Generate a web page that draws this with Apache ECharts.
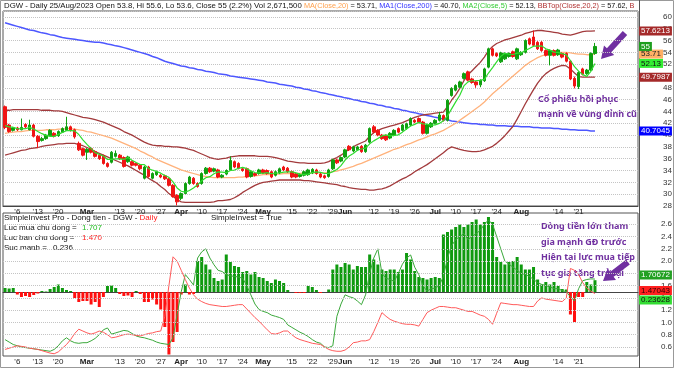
<!DOCTYPE html>
<html><head><meta charset="utf-8">
<script src="https://cdn.jsdelivr.net/npm/echarts@6/dist/echarts.min.js"></script>
<style>html,body{margin:0;padding:0;background:#fff}#c{width:675px;height:369px}</style>
</head><body><div id="c"></div>
<script>
const dates = [
'02-01','02-02','02-03','02-06','02-07','02-08','02-09','02-10','02-13','02-14','02-15','02-16','02-17','02-20','02-21','02-22','02-23','02-24','02-27','02-28',
'03-01','03-02','03-03','03-06','03-07','03-08','03-09','03-10','03-13','03-14','03-15','03-16','03-17','03-20','03-21','03-22','03-23','03-24','03-27','03-28','03-29','03-30','03-31',
'04-03','04-04','04-05','04-06','04-07','04-10','04-11','04-12','04-13','04-14','04-17','04-18','04-19','04-20','04-21','04-24','04-25','04-26','04-27','04-28',
'05-04','05-05','05-08','05-09','05-10','05-11','05-12','05-15','05-16','05-17','05-18','05-19','05-22','05-23','05-24','05-25','05-26','05-29','05-30','05-31',
'06-01','06-02','06-05','06-06','06-07','06-08','06-09','06-12','06-13','06-14','06-15','06-16','06-19','06-20','06-21','06-22','06-23','06-26','06-27','06-28','06-29','06-30',
'07-03','07-04','07-05','07-06','07-07','07-10','07-11','07-12','07-13','07-14','07-17','07-18','07-19','07-20','07-21','07-24','07-25','07-26','07-27','07-28','07-31',
'08-01','08-02','08-03','08-04','08-07','08-08','08-09','08-10','08-11','08-14','08-15','08-16','08-17','08-18','08-21','08-22','08-23','08-24','08-25'];
const futureSlots = ['08-28','08-29','08-30','08-31','09-05','09-06','09-07','09-08','09-11','09-12'];
const tickLabels = [['02-06',"'6"],['02-13',"'13"],['02-20',"'20"],['03-01','Mar'],['03-13',"'13"],['03-20',"'20"],['03-27',"'27"],['04-03','Apr'],['04-10',"'10"],['04-17',"'17"],['04-24',"'24"],['05-04','May'],['05-15',"'15"],['05-22',"'22"],['05-29',"'29"],['06-01','Jun'],['06-12',"'12"],['06-19',"'19"],['06-26',"'26"],['07-03','Jul'],['07-10',"'10"],['07-17',"'17"],['07-24',"'24"],['08-01','Aug'],['08-14',"'14"],['08-21',"'21"]];
const priceTicksMin = 28, priceTicksMax = 61, priceTickStep = 2;
const flowTicks = [0.6,0.8,1.0,1.2,1.4,1.6,1.8,2.0,2.2,2.4,2.6];

const open = [44.8,41.7,40.8,41.2,40.9,41.8,40.9,41.7,39.8,39.1,
 39.4,39.9,40.3,39.9,40.5,40.8,41.4,40.9,38.6,37.7,
 37.1,37.7,37.2,36.6,36.5,35.2,35.4,36.4,36.6,36.2,
 35.5,35.5,35.2,34.9,32.7,34.6,32.7,33.3,33.2,33.1,
 32.6,31.5,29.8,29.3,30.1,31.8,32.7,31.8,31.8,33.5,
 34.4,33.9,34.1,32.9,33.4,34.1,35.5,35.2,34.3,34.3,
 33.0,33.5,33.5,34.1,34.0,33.8,33.2,33.6,34.6,34.4,
 33.8,33.4,33.0,33.2,33.3,33.6,34.1,33.4,33.1,33.0,
 34.3,35.8,35.6,36.3,38.1,37.3,37.5,38.1,37.2,38.8,
 41.4,40.8,40.0,39.9,39.5,40.0,41.1,40.8,41.1,41.7,
 42.5,42.8,42.2,40.3,41.4,42.0,42.5,43.3,42.5,46.7,
 47.6,48.1,49.6,50.7,49.5,49.0,48.5,49.2,51.5,54.6,
 53.8,52.4,52.9,53.3,54.1,52.9,53.6,54.0,56.3,56.6,
 55.7,55.7,54.3,53.5,54.3,53.6,53.8,53.8,52.5,49.6,
 48.2,51.2,50.4,51.0,53.8];
const high = [45.0,41.9,41.4,41.4,42.8,42.0,42.6,41.9,40.0,39.7,
 40.2,41.0,40.5,40.8,41.3,43.1,41.6,41.1,38.9,37.9,
 37.8,38.0,37.4,36.8,36.7,35.4,37.3,37.4,36.8,36.4,
 36.5,35.7,35.3,35.1,34.8,34.8,33.7,34.0,33.4,33.3,
 32.8,31.7,30.0,30.3,32.0,33.1,32.9,32.0,33.7,34.6,
 34.6,34.5,34.3,33.4,34.2,36.4,35.7,35.4,34.5,34.5,
 34.0,33.7,34.3,34.3,34.2,34.0,34.0,34.5,34.8,34.6,
 34.0,33.6,33.5,34.0,34.3,34.4,34.3,33.6,33.3,34.3,
 36.0,36.0,36.4,37.7,38.3,38.2,38.2,38.3,38.5,41.3,
 41.7,41.0,40.2,40.1,40.5,41.0,41.3,41.9,42.1,43.0,
 42.7,43.0,42.4,41.9,42.2,42.7,43.9,43.5,46.1,48.1,
 48.6,49.2,50.6,50.9,49.7,49.2,49.4,51.4,54.8,54.8,
 54.0,54.1,54.0,54.0,54.3,54.8,54.2,56.2,56.5,57.7,
 55.9,55.9,54.5,54.5,54.5,54.6,54.0,54.0,52.7,49.9,
 50.8,51.4,51.2,54.0,55.6];
const low = [41.0,40.4,40.6,40.7,40.8,41.2,40.8,39.6,37.8,38.9,
 39.2,39.8,39.6,39.7,40.4,40.7,40.6,39.4,37.3,36.4,
 35.8,36.9,36.2,35.8,35.0,34.5,35.2,36.2,35.8,34.5,
 35.3,34.7,34.7,34.1,32.5,32.8,32.5,33.1,32.7,32.4,
 31.3,29.4,28.1,29.0,30.0,31.6,31.6,31.1,31.6,33.3,
 33.6,33.7,32.7,32.7,33.2,34.0,34.4,34.2,33.8,32.7,
 32.8,33.0,33.3,33.4,33.3,32.7,33.0,33.4,33.9,33.6,
 32.7,32.7,32.8,33.0,33.1,33.4,33.3,32.7,32.6,32.8,
 34.1,35.1,35.4,36.1,37.3,37.1,37.3,37.0,37.0,38.6,
 40.3,39.8,39.2,39.0,39.3,39.8,40.3,40.6,40.9,41.5,
 42.0,42.0,40.1,40.1,41.2,41.8,42.3,42.3,42.3,46.5,
 47.4,47.9,49.4,49.1,48.7,48.0,48.1,49.0,51.3,53.3,
 53.2,52.2,52.7,53.1,53.1,52.7,53.4,53.8,55.2,55.0,
 54.4,54.1,53.3,51.8,53.3,53.4,53.0,52.3,49.3,47.9,
 47.8,50.1,50.2,50.8,53.6];
const close = [41.3,40.6,41.2,40.9,41.3,41.4,41.7,39.8,38.9,39.4,
 40.0,40.8,39.8,40.6,41.1,41.4,40.8,39.7,37.5,36.6,
 37.6,37.1,36.4,36.0,35.2,34.7,37.1,36.9,36.0,34.7,
 36.3,34.9,34.9,34.3,34.6,33.0,33.5,33.8,32.9,32.6,
 31.5,29.6,28.7,30.1,31.8,32.9,31.8,31.3,33.5,34.4,
 33.8,34.3,32.9,33.2,34.0,35.7,34.6,34.4,34.0,32.9,
 33.8,33.2,34.1,33.6,33.5,32.9,33.8,34.3,34.1,33.8,
 32.9,32.9,33.3,33.8,34.1,34.2,33.5,32.9,32.8,34.1,
 35.8,35.3,36.2,37.5,37.5,38.0,38.0,37.2,38.3,41.1,
 40.5,40.0,39.4,39.2,40.3,40.8,40.5,41.7,41.9,42.8,
 42.2,42.2,40.3,41.7,42.0,42.5,43.4,42.5,45.9,47.9,
 48.4,49.0,50.4,49.3,48.9,48.5,49.3,51.2,54.6,53.5,
 53.4,53.9,53.8,53.8,53.3,54.6,54.0,56.0,55.4,55.2,
 54.6,54.3,53.5,54.3,53.5,54.4,53.2,52.5,49.5,48.3,
 50.6,50.3,51.0,53.8,55.0];
const ma5 = [41.6,41.4,41.3,41.1,41.06,41.08,41.3,41.02,40.62,40.24,
 39.96,39.78,39.78,40.12,40.46,40.74,40.74,40.72,40.1,39.2,
 38.44,37.7,37.04,36.74,36.46,35.88,35.88,35.98,35.98,35.88,
 36.2,35.76,35.36,35.02,35.0,34.34,34.06,33.84,33.56,33.16,
 32.86,32.08,31.06,30.5,30.34,30.62,31.06,31.58,32.26,32.78,
 32.96,33.46,33.78,33.72,33.64,34.02,34.08,34.38,34.54,34.32,
 33.94,33.66,33.6,33.52,33.64,33.46,33.58,33.62,33.72,33.78,
 33.78,33.6,33.4,33.34,33.4,33.66,33.78,33.7,33.5,33.5,
 33.82,34.18,34.84,35.78,36.46,36.9,37.44,37.64,37.8,38.52,
 39.02,39.42,39.86,40.04,39.88,39.94,40.04,40.5,41.04,41.54,
 41.82,42.16,41.88,41.84,41.68,41.74,41.98,42.42,43.26,44.44,
 45.62,46.74,48.32,49.0,49.2,49.22,49.28,49.44,50.5,51.42,
 52.4,53.32,53.84,53.68,53.64,53.88,53.9,54.34,54.66,55.04,
 55.04,55.1,54.6,54.38,54.04,54.0,53.78,53.58,52.62,51.58,
 50.82,50.24,49.94,50.8,52.13];
const ma20 = [40.3,40.4,40.5,40.6,40.6,40.7,40.8,40.8,40.8,40.8,
 40.9,40.9,40.9,41.0,41.0,41.1,41.1,41.0,40.9,40.8,
 40.6,40.5,40.3,40.1,39.9,39.7,39.5,39.2,38.9,38.6,
 38.3,38.0,37.7,37.3,37.0,36.6,36.3,35.9,35.6,35.3,
 35.0,34.7,34.4,34.1,33.9,33.7,33.5,33.3,33.1,33.0,
 32.9,32.8,32.8,32.8,32.8,32.8,32.8,32.9,32.9,33.0,
 33.0,33.1,33.2,33.3,33.3,33.3,33.4,33.4,33.5,33.5,
 33.5,33.5,33.5,33.6,33.6,33.6,33.6,33.6,33.6,33.7,
 33.8,33.9,34.1,34.3,34.5,34.7,35.0,35.2,35.5,35.8,
 36.1,36.4,36.7,37.0,37.3,37.6,37.8,38.1,38.4,38.6,
 38.9,39.2,39.4,39.7,40.0,40.2,40.5,40.8,41.2,41.6,
 42.0,42.5,43.0,43.5,44.0,44.5,45.0,45.6,46.3,47.0,
 47.6,48.2,48.8,49.4,50.0,50.6,51.2,51.8,52.3,52.7,
 53.1,53.4,53.6,53.8,53.9,54.0,54.0,54.0,53.9,53.8,
 53.7,53.7,53.6,53.6,53.71];
const ma200 = [59.0,58.8,58.6,58.4,58.2,58.0,57.8,57.7,57.5,57.3,
 57.2,57.0,56.9,56.7,56.5,56.4,56.3,56.2,56.1,56.0,
 55.9,55.8,55.7,55.7,55.6,55.4,55.3,55.1,55.0,54.8,
 54.6,54.4,54.2,54.0,53.8,53.6,53.3,53.1,52.8,52.5,
 52.3,52.1,51.9,51.7,51.6,51.4,51.3,51.1,51.0,50.8,
 50.7,50.6,50.4,50.3,50.2,50.0,49.9,49.8,49.7,49.6,
 49.5,49.4,49.3,49.2,49.0,48.9,48.8,48.6,48.5,48.4,
 48.3,48.1,48.0,47.8,47.7,47.5,47.4,47.2,47.1,46.9,
 46.8,46.6,46.5,46.3,46.2,46.0,45.9,45.7,45.6,45.4,
 45.3,45.1,45.0,44.8,44.7,44.5,44.4,44.2,44.1,43.9,
 43.8,43.6,43.5,43.3,43.2,43.0,42.9,42.7,42.6,42.4,
 42.3,42.2,42.1,42.0,41.9,41.9,41.8,41.8,41.7,41.7,
 41.6,41.6,41.6,41.5,41.5,41.5,41.4,41.4,41.4,41.3,
 41.3,41.2,41.2,41.2,41.1,41.1,41.0,41.0,40.9,40.9,
 40.8,40.8,40.8,40.7,40.70];
const bbTop = [44.2,44.2,44.3,44.3,44.3,44.3,44.3,44.3,44.3,44.2,
 44.2,44.2,44.1,44.1,44.0,43.8,43.6,43.4,43.2,43.0,
 42.9,42.8,42.6,42.4,42.2,41.9,41.6,41.3,41.0,40.6,
 40.3,40.0,39.6,39.2,38.8,38.5,38.3,38.2,38.2,38.1,
 38.1,38.0,38.0,37.9,37.8,37.6,37.4,37.1,36.8,36.5,
 36.2,36.0,35.9,36.0,36.1,36.3,36.4,36.5,36.5,36.5,
 36.5,36.5,36.4,36.4,36.4,36.3,36.2,36.0,35.8,35.6,
 35.5,35.4,35.3,35.3,35.2,35.2,35.2,35.2,35.3,35.5,
 35.9,36.2,36.6,37.1,37.6,38.0,38.4,38.7,39.0,39.8,
 40.4,40.8,41.1,41.3,41.5,41.7,41.9,42.1,42.4,42.7,
 43.0,43.2,43.4,43.5,43.6,43.7,43.8,43.9,44.8,45.9,
 46.8,47.9,49.2,50.2,50.9,51.6,52.3,53.2,54.3,55.0,
 55.5,55.8,56.1,56.3,56.5,56.7,56.9,57.2,57.4,57.6,
 57.7,57.7,57.6,57.5,57.4,57.3,57.1,57.0,56.9,57.1,
 57.3,57.5,57.6,57.6,57.62];
const bbBot = [36.6,36.8,37.0,37.2,37.4,37.5,37.7,37.8,37.9,38.1,
 38.2,38.3,38.4,38.5,38.5,38.6,38.6,38.6,38.4,38.2,
 37.9,37.6,37.2,36.9,36.6,36.3,36.0,35.7,35.4,35.1,
 34.8,34.4,34.0,33.6,33.2,32.7,32.3,31.9,31.3,30.8,
 30.1,29.6,29.1,28.7,28.6,28.6,28.6,28.6,28.6,28.6,
 28.6,28.7,28.9,28.9,29.0,29.1,29.4,29.8,30.3,30.7,
 31.1,31.5,31.8,32.0,32.1,32.2,32.3,32.4,32.4,32.4,
 32.4,32.4,32.4,32.3,32.3,32.2,32.1,32.0,31.9,31.8,
 31.7,31.6,31.4,31.3,31.1,31.0,30.9,30.8,30.8,30.7,
 30.7,30.8,30.9,31.1,31.4,31.8,32.2,32.6,32.9,33.3,
 33.8,34.2,34.6,35.0,35.5,36.0,36.5,37.0,37.6,38.0,
 37.8,37.6,37.4,37.3,37.2,37.2,37.3,37.5,37.8,38.1,
 38.6,39.2,39.9,40.7,41.5,42.7,44.0,45.3,46.5,47.7,
 48.8,49.7,50.4,50.9,51.3,51.6,51.8,51.7,51.2,50.5,
 49.9,49.8,49.8,49.8,49.80];
const buyFlow = [0.72,0.68,0.64,0.62,0.60,0.59,0.58,0.57,0.56,0.55,
 0.54,0.53,0.56,0.62,0.70,0.75,0.70,0.67,0.66,0.67,
 0.67,0.70,0.74,0.80,0.88,0.91,0.81,0.83,0.85,0.87,
 0.86,0.82,0.78,0.76,0.75,0.73,0.71,0.68,0.66,0.65,
 0.64,0.75,1.13,1.50,1.78,1.70,1.61,2.05,2.15,2.20,
 2.05,1.94,1.85,1.83,1.78,1.76,1.75,1.74,1.72,1.60,
 1.45,1.30,1.21,1.18,1.16,1.12,1.10,1.08,1.05,0.96,
 0.92,0.88,0.84,0.81,0.77,0.72,0.68,0.66,0.60,0.59,
 0.62,1.10,1.30,1.45,1.42,1.40,1.35,1.29,1.45,1.80,
 2.05,2.20,1.80,1.72,1.70,1.67,1.80,1.95,2.05,2.10,
 1.90,1.78,1.60,1.51,1.55,1.56,1.60,1.75,2.05,2.25,
 2.35,2.40,2.45,2.35,2.40,2.45,2.50,2.60,2.67,2.60,
 2.40,2.20,2.00,1.95,1.90,1.85,1.80,1.78,1.75,1.70,
 1.65,1.62,1.60,1.58,1.55,1.55,1.52,1.50,1.42,1.35,
 1.55,1.68,1.70,1.71,1.707];
const sellFlow = [0.56,0.58,0.60,0.62,0.61,0.60,0.58,0.57,0.56,0.54,
 0.52,0.50,0.49,0.52,0.58,0.64,0.72,0.82,0.89,0.86,
 0.83,0.81,0.83,0.86,0.84,0.80,0.75,0.76,0.78,0.80,
 0.81,0.80,0.79,0.78,0.80,0.82,0.83,0.85,0.86,1.10,
 1.60,2.07,2.00,1.85,1.70,1.56,1.45,1.38,1.34,1.31,
 1.29,1.28,1.27,1.26,1.26,1.27,1.28,1.29,1.29,1.22,
 1.15,1.08,1.02,0.95,0.88,0.82,0.81,0.83,0.86,0.86,
 0.80,0.75,0.72,0.70,0.68,0.66,0.65,0.64,0.60,0.56,
 0.54,0.53,0.53,0.55,0.60,0.67,0.68,0.70,0.70,0.72,
 0.85,1.00,1.16,1.10,1.05,1.02,1.00,0.98,0.97,0.97,
 0.96,0.94,1.05,1.16,1.20,1.23,1.26,1.26,1.25,1.24,
 1.24,1.22,1.20,1.18,1.18,1.15,1.12,1.10,1.05,0.97,
 1.15,1.32,1.31,1.30,1.29,1.29,1.28,1.27,1.26,1.26,
 1.35,1.40,1.38,1.37,1.36,1.35,1.34,1.40,1.88,1.85,
 1.78,1.65,1.56,1.51,1.470];
const strength = [0.08,0.07,0.08,-0.05,-0.10,-0.08,-0.10,-0.06,-0.03,0.02,
 0.01,0.06,0.10,0.15,0.08,0.04,0.02,-0.12,-0.20,-0.18,
 -0.18,-0.25,-0.20,-0.30,-0.10,0.12,0.13,0.08,-0.04,-0.08,
 -0.07,-0.10,0.02,-0.04,-0.20,-0.20,-0.15,-0.25,-0.35,-0.70,
 -1.25,-1.00,-0.80,-0.05,0.15,-0.05,-0.04,0.62,0.70,0.55,
 0.45,0.28,0.22,0.25,0.75,0.60,0.52,0.50,0.40,0.42,
 0.35,0.40,0.30,0.28,0.22,0.18,0.25,0.22,0.18,0.04,
 0.00,-0.02,-0.02,-0.02,0.12,0.10,0.04,-0.02,0.00,0.05,
 0.45,0.55,0.50,0.58,0.55,0.45,0.52,0.50,0.50,0.75,
 0.65,0.55,0.45,0.42,0.45,0.45,0.40,0.45,0.78,0.65,
 0.42,0.30,0.28,0.25,0.28,0.30,0.28,1.15,1.20,1.25,
 1.30,1.35,1.30,1.35,1.40,1.45,1.35,1.40,1.50,1.40,
 0.70,0.60,0.55,0.60,0.62,0.70,0.55,0.45,0.45,0.50,
 0.25,0.15,0.20,0.15,0.20,0.12,0.06,0.05,-0.45,-0.60,
 -0.10,-0.10,0.20,0.15,0.236];
const lastTags = { close:'55', ma20:'53.71', ma5:'52.13', bbTop:'57.6213', bbBot:'49.7987', ma200:'40.7045', buy:'1.70672', sell:'1.47043', strength:'0.23628' };
const headerSegs = [
  ['DGW - Daily 25/Aug/2023 Open 53.8, Hi 55.6, Lo 53.6, Close 55 (2.2%) Vol 2,671,500 ', '#111', 7.8],
  ['MA(Close,20)', '#ffa04c', 7.3], [' = 53.71, ', '#111', 7.3], ['MA1(Close,200)', '#3333ff', 7.3], [' = 40.70, ', '#111', 7.3],
  ['MA2(Close,5)', '#33cc33', 7.3], [' = 52.13, ', '#111', 7.3], ['BBTop(Close,20,2)', '#b03030', 7.3], [' = 57.62, ', '#111', 7.3],
  ['BBBot(Close,20,2)', '#b03030', 7.3], [' = 49.80', '#111', 7.3]];

const FONT = '"Liberation Sans", Arial, sans-serif';
const NOTE_FONT = '"Noto Sans", sans-serif';
const cats = dates.concat(futureSlots);
const labelMap = Object.fromEntries(tickLabels);
const candleData = dates.map((d, i) => [open[i], close[i], low[i], high[i]]);
const last = a => a[a.length - 1];

function xAxisFor(gi) {
  return {
    type: 'category', gridIndex: gi, data: cats, boundaryGap: true,
    axisLine: { show: true, lineStyle: { color: '#444', width: 1 } },
    axisTick: { show: false }, splitLine: { show: false },
    axisLabel: {
      interval: (i, v) => labelMap[v] !== undefined,
      formatter: v => { const t = labelMap[v] || ''; return /^[A-Z]/.test(t) ? '{m|' + t + '}' : t; },
      fontFamily: FONT, fontSize: 8, color: '#222', margin: 2,
      rich: { m: { fontWeight: 'bold', fontFamily: FONT, fontSize: 8, color: '#222' } }
    }
  };
}
function tag(val, text, bg, fg, dy) {
  return { yAxis: val, lineStyle: { color: 'rgba(0,0,0,0)', width: 0 },
    label: { show: true, opacity: 1, position: 'end', distance: 1, formatter: text, backgroundColor: bg, color: fg,
      fontFamily: FONT, fontSize: 8, padding: [1, 2, 0, 2], offset: [0, dy || 0] } };
}
function ml(items) { return { silent: true, symbol: 'none', animation: false, data: items }; }
const gridLow = flowTicks.map(v => ({ yAxis: v, lineStyle: { type: 'dotted', color: '#c4c4c4', width: 1 }, label: { show: false } }));

// header laid out segment by segment, clipped at the plot's right edge
const measureCtx = document.createElement('canvas').getContext('2d');
const headerEls = [];
(function () {
  let x = 4; const limit = 638;
  for (const [t, col, fs] of headerSegs) {
    if (x >= limit) break;
    measureCtx.font = fs + 'px "Liberation Sans", Arial, sans-serif';
    const w = measureCtx.measureText(t).width;
    const st = { text: t, fontFamily: FONT, fontSize: fs, fill: col };
    if (x + w > limit) { st.width = limit - x; st.overflow = 'truncate'; st.ellipsis = ''; }
    headerEls.push({ type: 'text', x: x, y: 2, style: st, silent: true });
    x += w;
  }
})();

const chart = echarts.init(document.getElementById('c'), null, { renderer: 'canvas' });
chart.setOption({
  animation: false,
  backgroundColor: '#fff',
  grid: [
    { left: 3, right: 36, top: 11, height: 195, show: true, borderColor: '#555', borderWidth: 1 },
    { left: 3, right: 36, top: 213, height: 143, show: true, borderColor: '#555', borderWidth: 1 }
  ],
  xAxis: [xAxisFor(0), xAxisFor(1)],
  yAxis: [
    { type: 'value', gridIndex: 0, position: 'right', min: priceTicksMin, max: priceTicksMax, interval: priceTickStep,
      axisLine: { show: false }, axisTick: { show: false },
      axisLabel: { showMaxLabel: false, align: 'right', margin: 34, fontFamily: FONT, fontSize: 8, color: '#333' },
      splitLine: { show: true, lineStyle: { type: 'dotted', color: '#c4c4c4' } } },
    { type: 'value', gridIndex: 1, position: 'right', min: 0.453, max: 2.784,
      axisLine: { show: false }, axisTick: { show: false },
      axisLabel: { customValues: flowTicks, formatter: v => v.toFixed(1), align: 'right', margin: 34, fontFamily: FONT, fontSize: 8, color: '#333' },
      splitLine: { show: false } },
    { type: 'value', gridIndex: 1, min: -1.28, max: 1.58, show: false, splitLine: { show: false } }
  ],
  series: [
    { type: 'line', name: 'MA200', xAxisIndex: 0, yAxisIndex: 0, data: ma200, showSymbol: false, clip: false, lineStyle: { color: '#4d57ff', width: 1.5 }, z: 2,
      markLine: ml([tag(last(ma200), lastTags.ma200, '#0000ff', '#fff')]) },
    { type: 'line', name: 'BBTop', xAxisIndex: 0, yAxisIndex: 0, data: bbTop, showSymbol: false, clip: false, lineStyle: { color: '#a23a3c', width: 1.3 }, z: 2,
      markLine: ml([tag(last(bbTop), lastTags.bbTop, '#a52a2a', '#fff')]) },
    { type: 'line', name: 'BBBot', xAxisIndex: 0, yAxisIndex: 0, data: bbBot, showSymbol: false, clip: false, lineStyle: { color: '#a23a3c', width: 1.3 }, z: 2,
      markLine: ml([tag(last(bbBot), lastTags.bbBot, '#a52a2a', '#fff')]) },
    { type: 'line', name: 'MA20', xAxisIndex: 0, yAxisIndex: 0, data: ma20, showSymbol: false, clip: false, lineStyle: { color: '#ffb27c', width: 1.3 }, z: 2,
      markLine: ml([tag(last(ma20), lastTags.ma20, '#ffb066', '#222')]) },
    { type: 'candlestick', name: 'DGW', xAxisIndex: 0, yAxisIndex: 0, data: candleData, barWidth: 3, clip: false, z: 3,
      itemStyle: { color: '#10a010', color0: '#f01414', borderColor: '#10a010', borderColor0: '#f01414', borderWidth: 1 },
      markLine: ml([tag(last(close), lastTags.close, '#1e9e1e', '#fff')]) },
    { type: 'line', name: 'MA5', xAxisIndex: 0, yAxisIndex: 0, data: ma5, showSymbol: false, clip: false, lineStyle: { color: '#2fdc2f', width: 1.2 }, z: 4,
      markLine: ml([tag(last(ma5), lastTags.ma5, '#33ee33', '#111')]) },
    { type: 'bar', name: 'Suc manh', xAxisIndex: 1, yAxisIndex: 2, data: strength, barWidth: 3, clip: false, z: 2,
      itemStyle: { color: p => p.value >= 0 ? '#0f9a0f' : '#ff1010' },
      markLine: ml([tag(last(strength), lastTags.strength, '#33dd33', '#111', 20)]) },
    { type: 'line', name: 'Luc mua', xAxisIndex: 1, yAxisIndex: 1, data: buyFlow, showSymbol: false, clip: false, lineStyle: { color: '#3aa83a', width: 1 }, z: 3,
      markLine: ml(gridLow.concat([tag(last(buyFlow), lastTags.buy, '#22a022', '#fff', -4)])) },
    { type: 'line', name: 'Luc ban', xAxisIndex: 1, yAxisIndex: 1, data: sellFlow, showSymbol: false, clip: false, lineStyle: { color: '#ff5a5a', width: 1 }, z: 3,
      markLine: ml([tag(last(sellFlow), lastTags.sell, '#ff2020', '#300', -3)]) }
  ],
  graphic: headerEls.concat([
    { type: 'rect', shape: { x: 0.5, y: 0.5, width: 673, height: 367 }, style: { fill: 'none', stroke: '#999', lineWidth: 1 }, silent: true },
    { type: 'line', shape: { x1: 639.5, y1: 0, x2: 639.5, y2: 368 }, style: { stroke: '#555', lineWidth: 1 }, silent: true },
    { type: 'text', x: 4, y: 214, style: { text: '{k|SimpleInvest Pro - Dong tien - DGW - }{r|Daily}',
        rich: { k: { fontFamily: FONT, fontSize: 8, fill: '#111' }, r: { fontFamily: FONT, fontSize: 8, fill: '#ff2020' } } } },
    { type: 'text', x: 211, y: 214, style: { text: 'SimpleInvest = True', fontFamily: FONT, fontSize: 8, fill: '#111' } },
    { type: 'text', x: 4, y: 224, style: { text: 'Luc mua chu dong =', fontFamily: FONT, fontSize: 8, fill: '#111' } },
    { type: 'text', x: 82, y: 224, style: { text: '1.707', fontFamily: FONT, fontSize: 8, fill: '#22bb22' } },
    { type: 'text', x: 4, y: 234, style: { text: 'Luc ban chu dong =', fontFamily: FONT, fontSize: 8, fill: '#111' } },
    { type: 'text', x: 82, y: 234, style: { text: '1.470', fontFamily: FONT, fontSize: 8, fill: '#ff2020' } },
    { type: 'text', x: 4, y: 244, style: { text: 'Suc manh =', fontFamily: FONT, fontSize: 8, fill: '#111' } },
    { type: 'text', x: 53, y: 244, style: { text: '0.236', fontFamily: FONT, fontSize: 8, fill: '#111' } },
    { type: 'text', x: 538, y: 92, style: { text: 'Cổ phiếu hồi phục\nmạnh về vùng đỉnh cũ', fontFamily: NOTE_FONT, fontSize: 9, fontWeight: 'bold', lineHeight: 15, fill: '#7030a0' } },
    { type: 'text', x: 541, y: 219, style: { text: 'Dòng tiền lớn tham\ngia mạnh GĐ trước\nHiện tại lực mua tiếp\ntục gia tăng trở lại', fontFamily: NOTE_FONT, fontSize: 9, fontWeight: 'bold', lineHeight: 15.5, fill: '#7030a0' } },
    { type: 'polygon', shape: { points: [[627.2,35.0],[611.3,52.2],[614.2,54.9],[601,59],[604.0,45.5],[606.9,48.2],[622.8,31.0]] }, style: { fill: '#7030a0' }, silent: true },
    { type: 'polygon', shape: { points: [[629.8,264.4],[613.6,276.7],[616.0,279.9],[603,281],[607.6,268.7],[610.0,271.9],[626.2,259.6]] }, style: { fill: '#7030a0' }, silent: true }
  ])
});
</script></body></html>
